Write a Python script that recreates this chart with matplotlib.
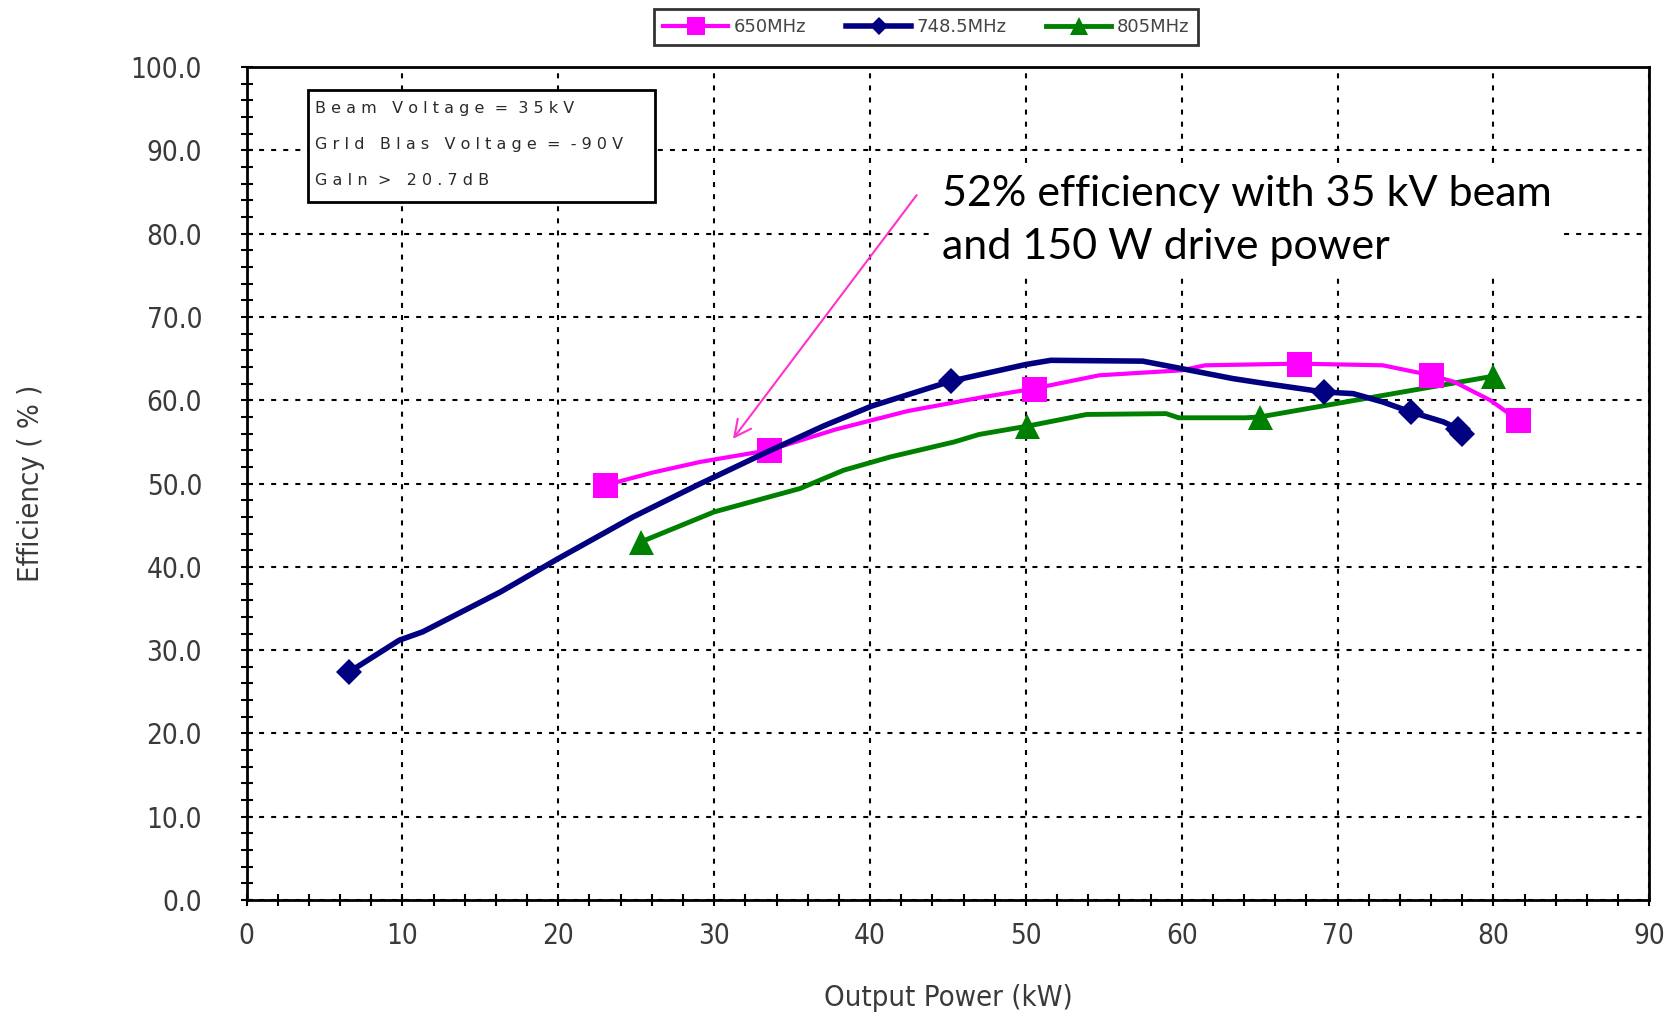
import matplotlib.pyplot as plt
from matplotlib.patches import Rectangle
from matplotlib.ticker import MultipleLocator, FormatStrFormatter

# 650 MHz
x_650 = [23.0, 26.0, 29.1, 33.5, 37.8, 42.4, 47.0, 50.5, 54.7, 60.0, 61.5, 67.5, 72.9, 76.0, 77.5, 79.8, 81.6]
y_650 = [49.8, 51.3, 52.6, 54.0, 56.5, 58.7, 60.3, 61.4, 63.0, 63.6, 64.2, 64.4, 64.2, 63.0, 62.2, 60.0, 57.6]
mk_650 = [0, 3, 7, 11, 13, 16]

# 748.5 MHz
x_748 = [6.6, 9.8, 11.3, 16.3, 20.0, 24.8, 28.9, 33.4, 37.0, 40.1, 45.2, 50.0, 51.6, 57.5, 60.0, 63.3, 65.4,
         69.1, 71.0, 72.9, 74.7, 76.8, 77.7, 78.0]
y_748 = [27.4, 31.2, 32.2, 37.0, 41.0, 46.0, 49.8, 53.8, 56.9, 59.3, 62.3, 64.3, 64.8, 64.7, 63.8, 62.6, 62.0,
         61.0, 60.8, 59.8, 58.6, 57.4, 56.6, 55.9]
mk_748 = [0, 10, 17, 20, 22, 23]

# 805 MHz
x_805 = [25.3, 30.0, 35.5, 38.3, 41.3, 45.4, 47.0, 50.1, 53.9, 59.0, 59.8, 64.1, 65.0, 80.0]
y_805 = [43.0, 46.6, 49.4, 51.6, 53.2, 55.0, 55.9, 56.9, 58.3, 58.4, 57.9, 57.9, 58.0, 62.9]
mk_805 = [0, 7, 12, 13]

info_lines = ["B e a m   V o l t a g e  =  3 5 k V",
              "G r I d   B I a s   V o l t a g e  =  - 9 0 V",
              "G a I n  >   2 0 . 7 d B"]
note = "52% efficiency with 35 kV beam\nand 150 W drive power"

label_color = "#3a3a3a"
narrow = dict(family="DejaVu Sans", stretch="condensed")

fig = plt.figure(figsize=(16.66, 10.17), dpi=100)
ax = fig.add_axes([0.148, 0.115, 0.842, 0.819])

series = [
    (x_805, y_805, mk_805, "#008000", "^", 18, 3.5, "805MHz"),
    (x_650, y_650, mk_650, "#ff00ff", "s", 18, 3.0, "650MHz"),
    (x_748, y_748, mk_748, "#000080", "D", 13, 4.0, "748.5MHz"),
]
handles = {}
for xs, ys, mk, c, m, ms, lw, lab in series:
    (h,) = ax.plot(xs, ys, color=c, lw=lw, marker=m, markersize=ms, markevery=mk,
                   markeredgewidth=0, label=lab, zorder=3)
    handles[lab] = h

ax.set_xlim(0, 90)
ax.set_ylim(0, 100)
ax.xaxis.set_major_locator(MultipleLocator(10))
ax.xaxis.set_minor_locator(MultipleLocator(2))
ax.yaxis.set_major_locator(MultipleLocator(10))
ax.yaxis.set_minor_locator(MultipleLocator(2))
ax.yaxis.set_major_formatter(FormatStrFormatter("%.1f"))
ax.tick_params(which="both", direction="inout", length=8, width=1.5, color="black")
ax.tick_params(which="major", labelsize=20, labelcolor=label_color, pad=12)
ax.tick_params(axis="y", pad=28)
for lbl in ax.get_xticklabels() + ax.get_yticklabels():
    lbl.set_fontstretch("condensed")

for s in ax.spines.values():
    s.set_linewidth(2)
ax.grid(True, which="major", color="black", lw=1.5, linestyle=(0, (2.4, 3.4)))

ax.set_xlabel("Output Power (kW)", fontsize=21, color=label_color, labelpad=24, **narrow)
ax.set_ylabel("Efficiency ( % )", fontsize=21, color=label_color, labelpad=62, **narrow)

# info box
ax.add_patch(Rectangle((0.0435, 0.838), 0.248, 0.134, transform=ax.transAxes,
                       facecolor="white", edgecolor="black", lw=2, zorder=4))
for i, line in enumerate(info_lines):
    ax.text(0.049, 0.950 - i * 0.043, line, transform=ax.transAxes, fontsize=11.5,
            color="#2a2a2a", va="center", ha="left", zorder=5)

# annotation
ax.text(44.6, 81.6, note, fontsize=31, family="Lato", color="black", va="center", ha="left",
        linespacing=1.5, zorder=5,
        bbox=dict(facecolor="white", edgecolor="none", pad=6))
ax.annotate("", xy=(31.1, 55.1), xytext=(43.1, 84.9),
            arrowprops=dict(arrowstyle="->", color="#ff33cc", lw=1.5, mutation_scale=30),
            zorder=5)

leg = fig.legend([handles["650MHz"], handles["748.5MHz"], handles["805MHz"]],
                 ["650MHz", "748.5MHz", "805MHz"], loc="upper center",
                 bbox_to_anchor=(0.556, 1.0), ncol=3, fontsize=13, frameon=True,
                 fancybox=False, edgecolor="black", handlelength=3.6, columnspacing=2.2,
                 handletextpad=0.3, borderpad=0.5, markerscale=0.7)
leg.get_frame().set_linewidth(2)
for t in leg.get_texts():
    t.set_color("#444444")

fig.savefig("out.png", dpi=100)
